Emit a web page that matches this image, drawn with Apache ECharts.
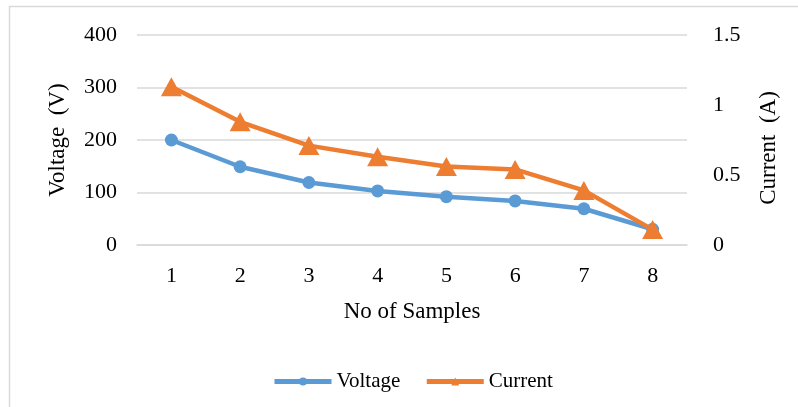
<!DOCTYPE html>
<html>
<head>
<meta charset="utf-8">
<script src="https://cdn.jsdelivr.net/npm/echarts@6/dist/echarts.min.js"></script>
<style>
  html, body { margin: 0; padding: 0; background: #fff; }
  #chart { width: 798px; height: 407px; }
</style>
</head>
<body>
<div id="chart"></div>
<script>
// data
const samples = ['1', '2', '3', '4', '5', '6', '7', '8']
const voltage = [200, 149, 119, 103, 92, 84, 69, 30]
const current = [1.13, 0.88, 0.71, 0.63, 0.56, 0.54, 0.39, 0.11]
const voltageTicks = { min: 0, max: 400, interval: 100 }
const currentTicks = { min: 0, max: 1.5, interval: 0.5 }

const font = 'Liberation Serif'
const blue = '#5B9BD5'
const orange = '#ED7D31'
const gridGray = '#D9D9D9'

const chart = echarts.init(document.getElementById('chart'))

const option = {
  backgroundColor: '#fff',
  animation: false,
  textStyle: { fontFamily: font, color: '#000' },
  graphic: [
    {
      type: 'rect',
      shape: { x: 9.5, y: 6.5, width: 800, height: 410 },
      style: { fill: 'none', stroke: gridGray, lineWidth: 1.5 },
      silent: true
    }
  ],
  grid: { left: 137, right: 111, top: 35, bottom: 162 },
  legend: {
    top: 366,
    left: 267,
    itemWidth: 57,
    itemHeight: 10,
    itemGap: 24,
    textStyle: { fontFamily: font, fontSize: 21, color: '#000' },
    data: [
      { name: 'Voltage', lineStyle: { width: 5 } },
      { name: 'Current', lineStyle: { width: 5 } }
    ]
  },
  xAxis: {
    type: 'category',
    data: samples,
    boundaryGap: true,
    name: 'No of Samples',
    nameLocation: 'middle',
    nameGap: 55,
    nameTextStyle: { fontFamily: font, fontSize: 23, color: '#000' },
    axisLine: { lineStyle: { color: gridGray, width: 1.5 } },
    axisTick: { show: false },
    axisLabel: { margin: 20, fontFamily: font, fontSize: 22, color: '#000' }
  },
  yAxis: [
    {
      type: 'value',
      min: voltageTicks.min,
      max: voltageTicks.max,
      interval: voltageTicks.interval,
      name: 'Voltage  (V)',
      nameLocation: 'middle',
      nameGap: 68,
      nameTextStyle: { fontFamily: font, fontSize: 23, color: '#000' },
      axisLine: { show: false },
      axisTick: { show: false },
      axisLabel: { margin: 20, fontFamily: font, fontSize: 22, color: '#000' },
      splitLine: { lineStyle: { color: gridGray, width: 1.5 } }
    },
    {
      type: 'value',
      min: currentTicks.min,
      max: currentTicks.max,
      interval: currentTicks.interval,
      name: 'Current  (A)',
      nameLocation: 'middle',
      nameGap: 70,
      nameTextStyle: { fontFamily: font, fontSize: 23, color: '#000', padding: [0, 16, 0, 0] },
      axisLine: { show: false },
      axisTick: { show: false },
      axisLabel: { margin: 26, fontFamily: font, fontSize: 22, color: '#000' },
      splitLine: { show: false }
    }
  ],
  series: [
    {
      name: 'Voltage',
      type: 'line',
      yAxisIndex: 0,
      data: voltage,
      symbol: 'circle',
      symbolSize: 13,
      lineStyle: { color: blue, width: 4.5 },
      itemStyle: { color: blue },
      z: 2
    },
    {
      name: 'Current',
      type: 'line',
      yAxisIndex: 1,
      data: current,
      symbol: 'triangle',
      symbolSize: [21, 19],
      lineStyle: { color: orange, width: 4.5 },
      itemStyle: { color: orange },
      z: 3
    }
  ]
}

chart.setOption(option)
window.addEventListener('resize', () => { chart.resize() })
</script>
</body>
</html>
